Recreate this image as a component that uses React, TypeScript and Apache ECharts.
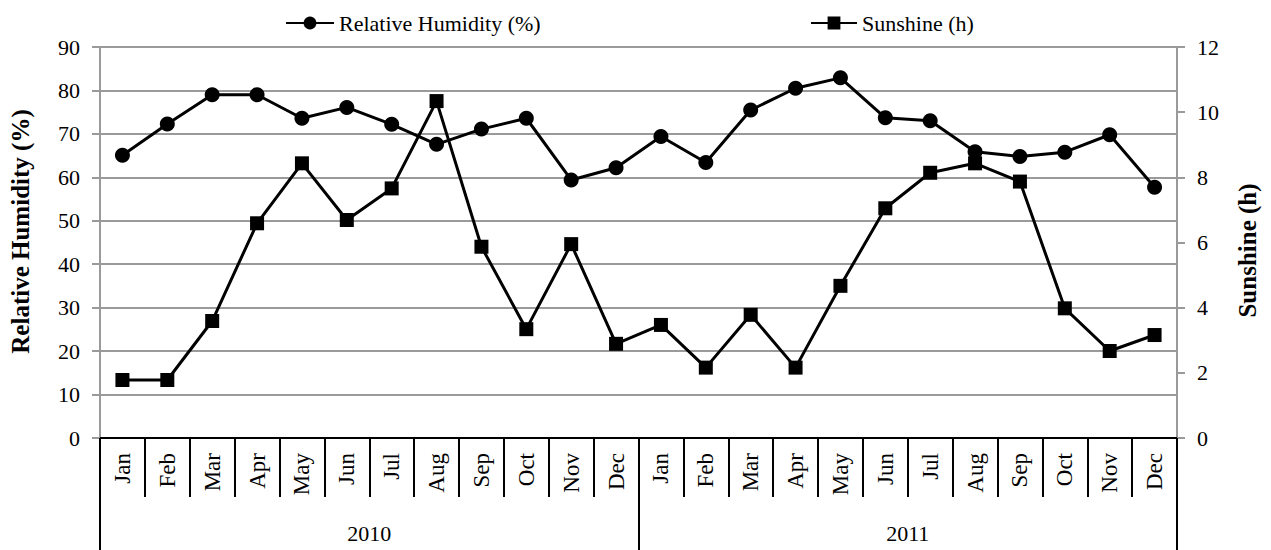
import React, { useEffect, useRef } from "react";
import * as echarts from "echarts";

const months = ["Jan", "Feb", "Mar", "Apr", "May", "Jun", "Jul", "Aug", "Sep", "Oct", "Nov", "Dec",
  "Jan", "Feb", "Mar", "Apr", "May", "Jun", "Jul", "Aug", "Sep", "Oct", "Nov", "Dec"];
const years = ["2010", "2011"];
const humidity = [65.1, 72.3, 79.0, 79.0, 73.6, 76.1, 72.2, 67.6, 71.1, 73.6, 59.4, 62.2,
  69.4, 63.4, 75.5, 80.5, 82.9, 73.7, 73.0, 65.9, 64.8, 65.8, 69.8, 57.7];
const sunshine = [1.78, 1.78, 3.59, 6.59, 8.43, 6.69, 7.66, 10.34, 5.87, 3.34, 5.95, 2.89,
  3.47, 2.16, 3.78, 2.16, 4.67, 7.05, 8.14, 8.43, 7.87, 3.98, 2.67, 3.16];

const FONT = "Liberation Serif";

export default function App() {
  const ref = useRef<HTMLDivElement>(null);
  useEffect(() => {
    document.body.style.margin = "0";
    const chart = echarts.init(ref.current!, null, { renderer: "svg" });
    const gridColor = "#9a9a9a";
    chart.setOption({
      animation: false,
      backgroundColor: "#ffffff",
      textStyle: { fontFamily: FONT, color: "#000" },
      grid: { left: 95, right: 94, top: 47, bottom: 112 },
      legend: [
        {
          data: ["Relative Humidity (%)"],
          left: 285,
          top: 12,
          padding: 0,
          itemWidth: 48,
          itemHeight: 16,
          itemGap: 5,
          textStyle: { fontFamily: FONT, fontSize: 22, color: "#000" },
        },
        {
          data: ["Sunshine (h)"],
          left: 810,
          top: 12,
          padding: 0,
          itemWidth: 46,
          itemHeight: 16,
          itemGap: 5,
          textStyle: { fontFamily: FONT, fontSize: 22, color: "#000" },
        },
      ],
      xAxis: [
        {
          type: "category",
          data: months,
          boundaryGap: true,
          position: "bottom",
          axisLine: { show: true, lineStyle: { color: "#000", width: 2 } },
          axisTick: { show: true, interval: 0, length: 59, lineStyle: { color: "#000", width: 2 } },
          axisLabel: { interval: 0, rotate: 90, margin: 15, fontFamily: FONT, fontSize: 23, color: "#000" },
          splitLine: { show: false },
        },
        {
          type: "category",
          data: years,
          boundaryGap: true,
          position: "bottom",
          offset: 0,
          axisLine: { show: false },
          axisTick: { show: true, interval: 0, length: 112, lineStyle: { color: "#000", width: 2 } },
          axisLabel: { interval: 0, margin: 84, fontFamily: FONT, fontSize: 22, color: "#000" },
          splitLine: { show: false },
        },
      ],
      yAxis: [
        {
          type: "value",
          min: 0,
          max: 90,
          interval: 10,
          position: "left",
          name: "Relative Humidity (%)",
          nameLocation: "middle",
          nameRotate: 90,
          nameGap: 67,
          nameTextStyle: { fontFamily: FONT, fontSize: 25, fontWeight: "bold", color: "#000", padding: [0, 0, 0, 22] },
          axisLine: { show: true, lineStyle: { color: gridColor, width: 2 } },
          axisTick: { show: true, length: 8, lineStyle: { color: gridColor, width: 2 } },
          axisLabel: { margin: 20, fontFamily: FONT, fontSize: 22, color: "#000" },
          splitLine: { show: true, lineStyle: { color: gridColor, width: 2 } },
        },
        {
          type: "value",
          min: 0,
          max: 12,
          interval: 2,
          position: "right",
          name: "Sunshine (h)",
          nameLocation: "middle",
          nameRotate: 90,
          nameGap: 58,
          nameTextStyle: { fontFamily: FONT, fontSize: 25, fontWeight: "bold", color: "#000", padding: [0, 16, 0, 0] },
          axisLine: { show: true, lineStyle: { color: gridColor, width: 2 } },
          axisTick: { show: true, length: 8, lineStyle: { color: gridColor, width: 2 } },
          axisLabel: { margin: 20, fontFamily: FONT, fontSize: 22, color: "#000" },
          splitLine: { show: false },
        },
      ],
      series: [
        {
          name: "Relative Humidity (%)",
          type: "line",
          xAxisIndex: 0,
          yAxisIndex: 0,
          data: humidity,
          symbol: "circle",
          symbolSize: 15,
          lineStyle: { color: "#000", width: 3 },
          itemStyle: { color: "#000" },
          z: 3,
        },
        {
          name: "Sunshine (h)",
          type: "line",
          xAxisIndex: 0,
          yAxisIndex: 1,
          data: sunshine,
          symbol: "rect",
          symbolSize: 14,
          lineStyle: { color: "#000", width: 3 },
          itemStyle: { color: "#000" },
          z: 3,
        },
      ],
    });
    return () => chart.dispose();
  }, []);
  return <div ref={ref} style={{ width: 1271, height: 550 }} />;
}
